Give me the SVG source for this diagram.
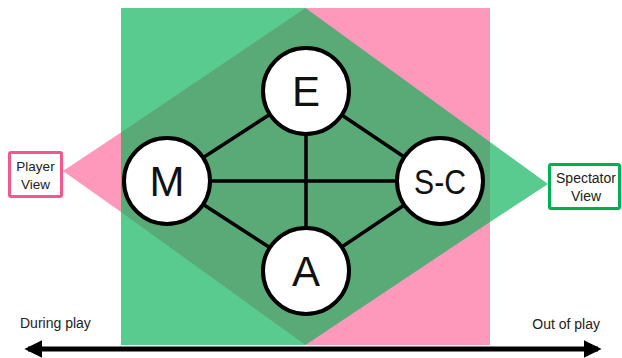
<svg xmlns="http://www.w3.org/2000/svg" width="622" height="358" viewBox="0 0 622 358">
<defs>
<style>
.lbl{font-family:"Liberation Sans",Arial,sans-serif;fill:#222;}
.node circle{fill:#fff;stroke:#000;stroke-width:4;}
.node text{font-family:"Liberation Sans",Arial,sans-serif;fill:#111;text-anchor:middle;}
.edge{stroke:#000;stroke-width:3.5;fill:none;}
</style>
<marker id="ah" viewBox="0 0 10 10" refX="8" refY="5" markerWidth="3.6" markerHeight="3.6" orient="auto-start-reverse" markerUnits="strokeWidth">
<path d="M0,0 L10,5 L0,10 Z" fill="#000"/>
</marker>
</defs>
<rect width="622" height="358" fill="#fff"/>
<g id="background">
<rect x="121" y="8" width="184.5" height="337" fill="#5ACB8E"/>
<rect x="305.5" y="8" width="184.5" height="337" fill="#FF99BB"/>
<polygon points="63,171 121,132.6 121,212" fill="#FF99BB"/>
<polygon points="548,184 490,142 490,222" fill="#5ACB8E"/>
<polygon points="121,132.6 305.5,8 490,142 490,222 305.5,345 121,212" fill="#5AAA78"/>
</g>
<g id="connectors">
<line class="edge" x1="167" y1="181" x2="306" y2="91"/>
<line class="edge" x1="306" y1="91" x2="440" y2="181"/>
<line class="edge" x1="440" y1="181" x2="306" y2="271"/>
<line class="edge" x1="306" y1="271" x2="167" y2="181"/>
<line class="edge" x1="167" y1="181" x2="440" y2="181"/>
<line class="edge" x1="306" y1="91" x2="306" y2="271"/>
<line x1="28" y1="349" x2="598" y2="349" stroke="#000" stroke-width="5" marker-start="url(#ah)" marker-end="url(#ah)"/>
</g>
<g id="node-E" class="node"><circle cx="306" cy="91" r="43"/><text x="306" y="106" font-size="42">E</text></g>
<g id="node-M" class="node"><circle cx="167" cy="181" r="43"/><text x="167" y="196" font-size="42">M</text></g>
<g id="node-SC" class="node"><circle cx="440" cy="181" r="43"/><text x="440" y="194" font-size="35" textLength="52" lengthAdjust="spacingAndGlyphs">S-C</text></g>
<g id="node-A" class="node"><circle cx="306" cy="271" r="43"/><text x="306" y="286" font-size="42">A</text></g>
<g id="player-view">
<rect x="9.5" y="152.5" width="52" height="44" rx="1.5" fill="#fff" stroke="#F2578E" stroke-width="3"/>
<text class="lbl" x="35.5" y="171" font-size="13.5" text-anchor="middle">Player</text>
<text class="lbl" x="35.5" y="189" font-size="13.5" text-anchor="middle">View</text>
</g>
<g id="spectator-view">
<rect x="549.5" y="164.5" width="70" height="44" rx="1.5" fill="#fff" stroke="#00B050" stroke-width="3"/>
<text class="lbl" x="586" y="183" font-size="14" text-anchor="middle">Spectator</text>
<text class="lbl" x="586" y="201" font-size="14" text-anchor="middle">View</text>
</g>
<text class="lbl" x="20" y="328" font-size="14">During play</text>
<text class="lbl" x="600" y="329" font-size="14" text-anchor="end">Out of play</text>
</svg>
